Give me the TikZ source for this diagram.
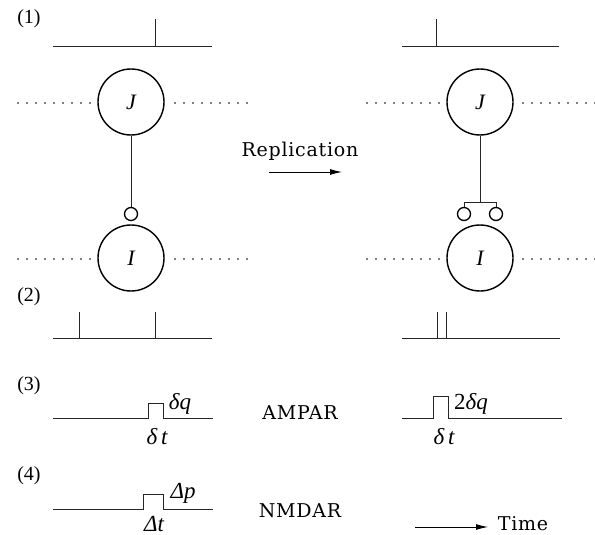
\documentclass[tikz,border=0pt]{standalone}
\usepackage{fontspec}
\setmainfont{Liberation Serif}
\newfontfamily\spc{DejaVu Serif}[LetterSpace=4]
\usetikzlibrary{arrows.meta}
\begin{document}
\begin{tikzpicture}[x=1pt,y=-1pt,
  sig/.style={line width=0.9pt, draw=black!85},
  neuron/.style={circle, draw, line width=1.4pt, minimum size=66pt, inner sep=0pt, font=\itshape\fontsize{22}{24}\selectfont},
  syn/.style={circle, draw, line width=1.3pt, minimum size=13pt, inner sep=0pt},
  dots/.style={line width=1.8pt, line cap=round, dash pattern=on 0pt off 9pt},
  lbl/.style={font=\fontsize{20}{22}\selectfont, inner sep=0pt},
  txt/.style={font=\spc\fontsize{19}{23}\selectfont, inner sep=0pt},
  mth/.style={font=\itshape\fontsize{23}{25}\selectfont, inner sep=0pt}]
\useasboundingbox (0,0) rectangle (595,535);

% ---- row (1)
\node[lbl] (l1) at (29,19) {(1)};
\draw[sig] (53,46) -- (212,46);
\draw[sig] (155,46) -- (155,19);
\draw[sig] (402,46) -- (559,46);
\draw[sig] (436,46) -- (436,19);

% ---- neurons, left
\node[neuron] (J1) at (131,102) {J};
\node[neuron] (I1) at (131,258) {I};
\node[syn] (s1) at (131,214) {};
\draw[sig] (J1.south) -- (s1.north);
\draw[dots] (18,103) -- (90,103);
\draw[dots] (175,103) -- (247,103);
\draw[dots] (18,259) -- (90,259);
\draw[dots] (175,259) -- (247,259);

% ---- neurons, right
\node[neuron] (J2) at (480,102) {J};
\node[neuron] (I2) at (480,258) {I};
\node[syn] (s2a) at (464,214) {};
\node[syn] (s2b) at (496,214) {};
\coordinate (br) at (480,202.5);
\draw[sig] (J2.south) -- (br);
\draw[sig] (s2a.north) |- (br) -| (s2b.north);
\draw[dots] (367,103) -- (439,103);
\draw[dots] (523,103) -- (595,103);
\draw[dots] (367,259) -- (439,259);
\draw[dots] (523,259) -- (595,259);

% ---- replication
\node[txt] (rep) at (300,151) {Replication};
\coordinate (ra) at (269,172);
\coordinate (rb) at (342,172);
\draw[line width=0.9pt, -{Latex[length=12pt,width=6pt]}] (ra) -- (rb);

% ---- row (2)
\node[lbl] (l2) at (29,297) {(2)};
\draw[sig] (53,338) -- (212,338);
\draw[sig] (79,338) -- (79,312);
\draw[sig] (155,338) -- (155,312);
\draw[sig] (402,338) -- (560,338);
\draw[sig] (437,338) -- (437,312);
\draw[sig] (446,338) -- (446,312);

% ---- row (3)
\node[lbl] (l3) at (29,386) {(3)};
\draw[sig] (53,418) -- (148,418) -- (148,403) -- (163,403) -- (163,418) -- (213,418);
\node[mth] (dq) at (180,404) {δq};
\node[mth] (dt) at (157,437) {δ\,t};
\node[txt] (ampar) at (300,413) {AMPAR};
\draw[sig] (402,418) -- (433,418) -- (433,396) -- (448,396) -- (448,418) -- (562,418);
\node[mth] (dq2) at (471,404) {{\upshape 2}δq};
\node[mth] (dt2) at (444,437) {δ\,t};

% ---- row (4)
\node[lbl] (l4) at (29,476) {(4)};
\draw[sig] (53,509) -- (143,509) -- (143,494) -- (163,494) -- (163,509) -- (213,509);
\node[mth] (Dp) at (183,493) {Δp};
\node[mth] (Dt) at (154,524) {Δt};
\node[txt] (nmdar) at (300,511) {NMDAR};

% ---- time arrow
\node[txt] (time) at (523,524) {Time};
\coordinate (ta) at (415,527);
\coordinate (tb) at (488,527);
\draw[line width=0.9pt, -{Latex[length=12pt,width=6pt]}] (ta) -- (tb);
\end{tikzpicture}
\end{document}
